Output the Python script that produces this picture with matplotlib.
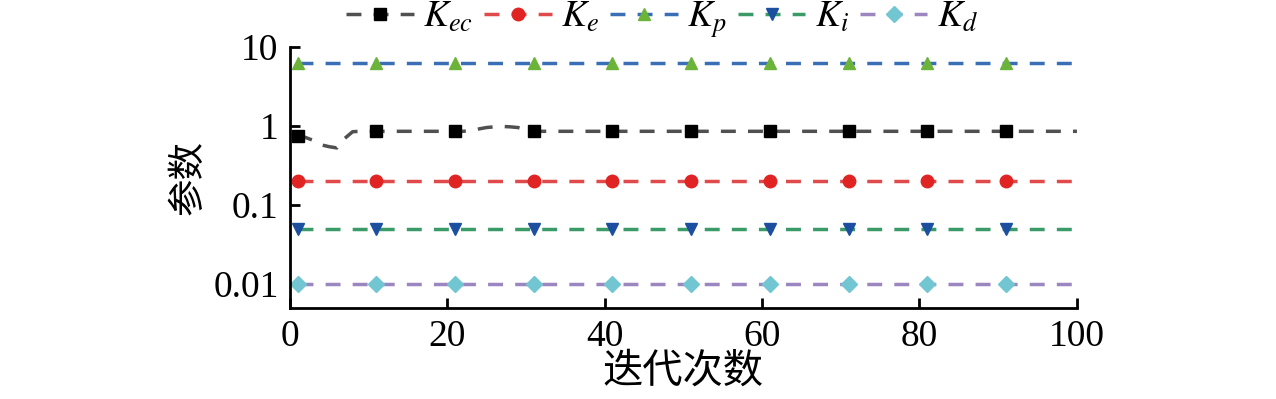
import numpy as np
import matplotlib.pyplot as plt
from matplotlib.ticker import FixedLocator, FixedFormatter, NullLocator

plt.rcParams['font.family'] = ['Liberation Serif', 'Noto Sans CJK SC']
plt.rcParams['mathtext.fontset'] = 'stix'

# iteration index 1..100
it = np.arange(1, 101)

# K_ec: values read for the first iterations, then flat
k_ec_start = [0.75, 0.72, 0.66, 0.58, 0.55, 0.53, 0.7, 0.85, 0.86, 0.86,
              0.86, 0.86, 0.86, 0.86, 0.86, 0.86, 0.86, 0.86, 0.86, 0.86,
              0.86, 0.86, 0.88, 0.92, 0.96, 0.98, 0.99, 0.98, 0.96, 0.9,
              0.86]
k_ec = k_ec_start + [0.86] * (100 - len(k_ec_start))
k_e = [0.2] * 100
k_p = [6.3] * 100
k_i = [0.05] * 100
k_d = [0.01] * 100

series = [
    ('$K_{ec}$', k_ec, '#505050', 's', '#000000'),
    ('$K_{e}$', k_e, '#e04a4a', 'o', '#e02424'),
    ('$K_{p}$', k_p, '#3a6fb5', '^', '#6cb33a'),
    ('$K_{i}$', k_i, '#3a9a68', 'v', '#1d4fa0'),
    ('$K_{d}$', k_d, '#9b86c0', 'D', '#72c6d2'),
]

fig = plt.figure(figsize=(12.76, 3.99), dpi=100)
ax = fig.add_axes([0.227, 0.228, 0.617, 0.654])

for lab, y, lc, mk, mc in series:
    ax.plot(it, y, color=lc, lw=2.5, dashes=(4.3, 3.5), marker=mk,
            markevery=10, ms=9 if mk != 'D' else 8,
            mfc=mc, mec=mc, label=lab)

ax.set_yscale('log')
ax.set_xlim(0, 100)
ax.set_ylim(0.005, 10)
ax.yaxis.set_major_locator(FixedLocator([0.01, 0.1, 1, 10]))
ax.yaxis.set_major_formatter(FixedFormatter(['0.01', '0.1', '1', '10']))
ax.yaxis.set_minor_locator(NullLocator())
ax.set_xticks([0, 20, 40, 60, 80, 100])

for s in ['top', 'right']:
    ax.spines[s].set_visible(False)
for s in ['left', 'bottom']:
    ax.spines[s].set_linewidth(2)
ax.tick_params(direction='in', length=7, width=2, labelsize=27, pad=8)

ax.set_xlabel('迭代次数', fontsize=29, labelpad=0)
ax.set_ylabel('参数', fontsize=27, labelpad=5)

ax.legend(loc='lower center', bbox_to_anchor=(0.473, 0.97), ncol=5,
          frameon=False, fontsize=27, handlelength=1.8, columnspacing=0.3,
          handletextpad=0.25, borderaxespad=0)

fig.savefig('out.png', dpi=100)
